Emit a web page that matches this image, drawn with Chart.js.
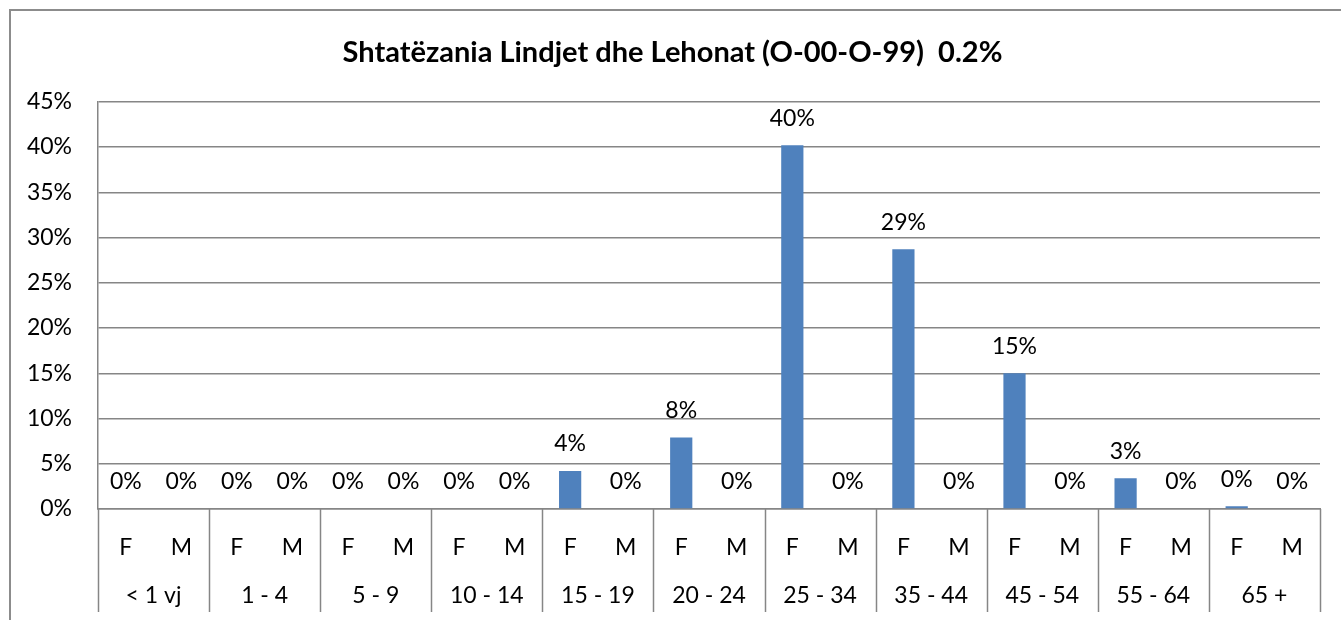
<!DOCTYPE html>
<html>
<head>
<meta charset="utf-8">
<script src="https://cdn.jsdelivr.net/npm/chart.js@4/dist/chart.umd.min.js"></script>
<style>
  html, body { margin: 0; padding: 0; background: #fff; overflow: hidden; }
  #frame { position: absolute; left: 9px; top: 9px; width: 1400px; height: 700px; border: 2px solid #8c8c8c; box-sizing: border-box; }
  #wrap { position: absolute; left: 0; top: 0; width: 1341px; height: 620px; }
</style>
</head>
<body>
<div id="frame"></div>
<div id="wrap"><canvas id="chart"></canvas></div>
<script>
const titleText = 'Shtatëzania Lindjet dhe Lehonat (O-00-O-99)  0.2%'
const ageGroups = ['< 1 vj', '1 - 4', '5 - 9', '10 - 14', '15 - 19', '20 - 24', '25 - 34', '35 - 44', '45 - 54', '55 - 64', '65 +']
const sexes = ['F', 'M']
const femaleValues = [0, 0, 0, 0, 4.2, 7.9, 40.2, 28.7, 15.0, 3.4, 0.3]
const maleValues = [0, 0, 0, 0, 0, 0, 0, 0, 0, 0, 0]
const yTicks = [0, 5, 10, 15, 20, 25, 30, 35, 40, 45]

// one bar per F / M slot
const barLabels = []
const barValues = []
ageGroups.forEach((g, i) => {
  barLabels.push(sexes[0], sexes[1])
  barValues.push(femaleValues[i], maleValues[i])
})

const gridColor = '#868686'
const fontFamily = 'Lato, "Open Sans", sans-serif'
const tickSize = 23

// values above bars
const barLabelPlugin = {
  id: 'barLabels',
  afterDatasetsDraw (chart) {
    const ctx = chart.ctx
    const meta = chart.getDatasetMeta(0)
    ctx.save()
    ctx.font = `${tickSize}px ${fontFamily}`
    ctx.fillStyle = '#000'
    ctx.textAlign = 'center'
    ctx.textBaseline = 'middle'
    meta.data.forEach((bar, i) => {
      ctx.fillText(Math.round(barValues[i]) + '%', bar.x, bar.y - 27)
    })
    ctx.restore()
  }
}

// vertical separators between age groups under the axis
const groupLinesPlugin = {
  id: 'groupLines',
  afterDraw (chart) {
    const ctx = chart.ctx
    const x = chart.scales.x
    const top = chart.chartArea.bottom
    const bottom = top + 103
    const edges = [chart.chartArea.left]
    for (let g = 1; g < ageGroups.length; g++) {
      edges.push((x.getPixelForValue(g * 2 - 1) + x.getPixelForValue(g * 2)) / 2)
    }
    edges.push(chart.chartArea.right)
    ctx.save()
    ctx.strokeStyle = gridColor
    ctx.lineWidth = 1.5
    edges.forEach(px => {
      const p = Math.round(px) + 0.5
      ctx.beginPath()
      ctx.moveTo(p, top)
      ctx.lineTo(p, bottom)
      ctx.stroke()
    })
    ctx.restore()
  }
}

new Chart(document.getElementById('chart'), {
  type: 'bar',
  data: {
    labels: barLabels,
    datasets: [{
      data: barValues,
      backgroundColor: '#4f81bd',
      barPercentage: 0.4,
      categoryPercentage: 1
    }]
  },
  options: {
    responsive: true,
    maintainAspectRatio: false,
    animation: false,
    layout: { padding: { left: 25, right: 21, top: 0, bottom: 0 } },
    plugins: {
      legend: { display: false },
      tooltip: { enabled: false },
      title: {
        display: true,
        text: titleText,
        color: '#000',
        font: { family: fontFamily, size: 29, weight: 'bold' },
        padding: { top: 35, bottom: 32 }
      }
    },
    scales: {
      x: {
        offset: true,
        grid: { display: false },
        border: { display: true, color: gridColor, width: 1.5 },
        ticks: { color: '#000', font: { family: fontFamily, size: tickSize }, padding: 17, maxRotation: 0, autoSkip: false },
        afterFit: s => { s.height = 48 }
      },
      x2: {
        type: 'category',
        labels: ageGroups,
        position: 'bottom',
        offset: true,
        grid: { display: false },
        border: { display: false },
        ticks: { color: '#000', font: { family: fontFamily, size: tickSize }, padding: 17, maxRotation: 0, autoSkip: false },
        afterFit: s => { s.height = 63 }
      },
      y: {
        min: 0,
        max: 45,
        afterBuildTicks: s => { s.ticks = yTicks.map(v => ({ value: v })) },
        grid: { color: gridColor, lineWidth: 1.5, drawTicks: false },
        border: { display: true, color: gridColor, width: 1.5 },
        ticks: { color: '#000', font: { family: fontFamily, size: tickSize }, padding: 26, callback: v => v + '%' },
        afterFit: s => { s.width = 73 }
      }
    }
  },
  plugins: [barLabelPlugin, groupLinesPlugin]
})
</script>
</body>
</html>
